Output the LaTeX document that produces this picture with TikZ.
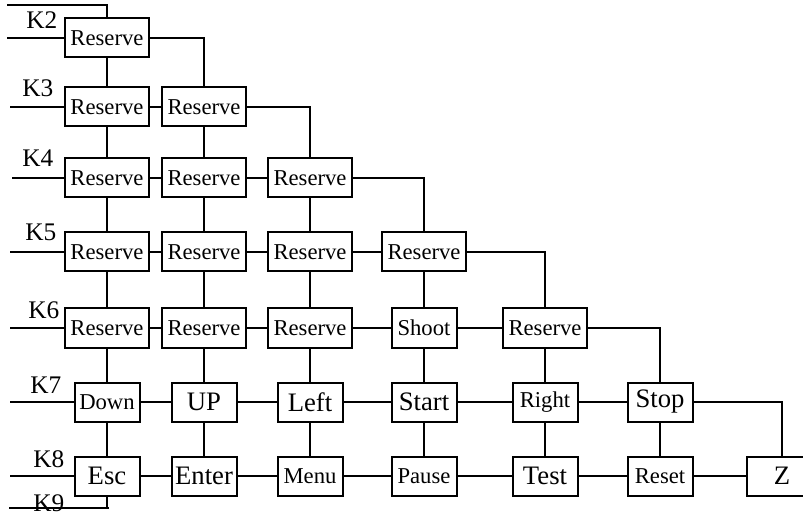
\documentclass[tikz,border=0pt]{standalone}
\usepackage{fontspec}
\setmainfont{Liberation Serif}

\begin{document}
\begin{tikzpicture}[
    x=0.75pt,y=-0.75pt,
    cell/.style={draw,line width=1.5pt,minimum height=29.25pt,inner sep=0pt,font=\fontsize{17}{20}\selectfont},
    res/.style={cell,minimum width=63pt},
    btn/.style={cell,minimum width=48.75pt},
    big/.style={font=\fontsize{20}{24}\selectfont},
    wire/.style={line width=1pt},
    pin/.style={anchor=base west,inner sep=0pt,font=\fontsize{19}{22}\selectfont}
  ]
    \useasboundingbox (0,0) rectangle (803,513);

    % row labels and free wire ends
    \node[pin] (l2) at (26,29) {K2};
    \node[pin] (l3) at (22,97) {K3};
    \node[pin] (l4) at (22,167) {K4};
    \node[pin] (l5) at (25,241) {K5};
    \node[pin] (l6) at (28,319) {K6};
    \node[pin] (l7) at (30,393) {K7};
    \node[pin] (l8) at (33,467) {K8};
    \node[pin] (l9) at (33,511) {K9};
    \coordinate (t2) at (7,5);
    \coordinate (k2) at (7,38);
    \coordinate (k3) at (10,107);
    \coordinate (k4) at (12,178);
    \coordinate (k5) at (10,252);
    \coordinate (k6) at (10,328);
    \coordinate (k7) at (10,402);
    \coordinate (k8) at (10,476);
    \coordinate (k9) at (107,508);
    \coordinate (k9s) at (9,508);
    \coordinate (k9e) at (109,508);

    % keys
    \node[res] (r21) at (107,38) {Reserve};
    \node[res] (r31) at (107,107) {Reserve};
    \node[res] (r32) at (204,107) {Reserve};
    \node[res] (r41) at (107,178) {Reserve};
    \node[res] (r42) at (204,178) {Reserve};
    \node[res] (r43) at (310,178) {Reserve};
    \node[res] (r51) at (107,252) {Reserve};
    \node[res] (r52) at (204,252) {Reserve};
    \node[res] (r53) at (310,252) {Reserve};
    \node[res] (r54) at (424,252) {Reserve};
    \node[res] (r61) at (107,328) {Reserve};
    \node[res] (r62) at (204,328) {Reserve};
    \node[res] (r63) at (310,328) {Reserve};
    \node[btn] (shoot) at (424,328) {Shoot};
    \node[res] (r65) at (545,328) {Reserve};
    \node[btn] (down) at (107,402) {Down};
    \node[btn,big] (up) at (204,402) {UP};
    \node[btn,big] (left) at (310,402) {Left};
    \node[btn,big] (start) at (424,402) {Start};
    \node[btn] (right) at (545,402) {Right};
    \node[btn,big] (stop) at (660,402) {Stop};
    \node[btn,big] (esc) at (107,476) {Esc};
    \node[btn,big] (enter) at (204,476) {Enter};
    \node[btn] (menu) at (310,476) {Menu};
    \node[btn] (pause) at (424,476) {Pause};
    \node[btn,big] (test) at (545,476) {Test};
    \node[btn] (reset) at (660,476) {Reset};
    \node[cell,big,minimum width=52pt] (z) at (782,476) {Z};

    % row wires
    \draw[wire] (t2) -| (r21);
    \draw[wire] (k2) -- (r21) -| (r32);
    \draw[wire] (k3) -- (r31) -- (r32) -| (r43);
    \draw[wire] (k4) -- (r41) -- (r42) -- (r43) -| (r54);
    \draw[wire] (k5) -- (r51) -- (r52) -- (r53) -- (r54) -| (r65);
    \draw[wire] (k6) -- (r61) -- (r62) -- (r63) -- (shoot) -- (r65) -| (stop);
    \draw[wire] (k7) -- (down) -- (up) -- (left) -- (start) -- (right) -- (stop) -| (z);
    \draw[wire] (k8) -- (esc) -- (enter) -- (menu) -- (pause) -- (test) -- (reset) -- (z);
    \draw[wire] (k9s) -- (k9e);

    % column wires
    \draw[wire] (r21) -- (r31) -- (r41) -- (r51) -- (r61) -- (down) -- (esc) -- (k9);
    \draw[wire] (r32) -- (r42) -- (r52) -- (r62) -- (up) -- (enter);
    \draw[wire] (r43) -- (r53) -- (r63) -- (left) -- (menu);
    \draw[wire] (r54) -- (shoot) -- (start) -- (pause);
    \draw[wire] (r65) -- (right) -- (test);
    \draw[wire] (stop) -- (reset);
  \end{tikzpicture}
\end{document}
